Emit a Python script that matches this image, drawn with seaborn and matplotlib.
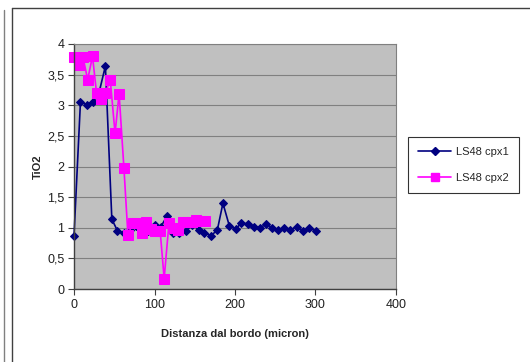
import matplotlib
matplotlib.use("Agg")
import matplotlib.pyplot as plt
import seaborn as sns
import pandas as pd
from matplotlib.lines import Line2D
from matplotlib.ticker import FuncFormatter, MultipleLocator

# ---- data ----
cpx1_x = [0, 8, 16, 24, 31, 39, 47, 54, 62, 69, 77, 85, 92, 100, 108, 116, 123, 131, 139, 147,
          155, 162, 170, 178, 185, 193, 201, 208, 216, 224, 231, 239, 246, 253, 261, 268, 277, 284, 292, 301]
cpx1_y = [0.87, 3.05, 3.01, 3.06, 3.20, 3.64, 1.14, 0.95, 0.91, 0.97, 1.03, 0.98, 0.94, 1.05, 1.02, 1.20, 0.92, 0.91, 0.94, 1.05,
          0.97, 0.92, 0.87, 0.96, 1.40, 1.03, 0.98, 1.08, 1.06, 1.02, 1.00, 1.06, 1.00, 0.97, 0.99, 0.96, 1.02, 0.95, 0.99, 0.95]
cpx2_x = [0, 6, 11, 17, 23, 28, 34, 39, 45, 51, 56, 62, 67, 73, 78, 84, 90, 96, 101, 107,
          112, 118, 124, 129, 135, 141, 146, 152, 157, 163]
cpx2_y = [3.79, 3.66, 3.79, 3.42, 3.80, 3.20, 3.11, 3.20, 3.42, 2.54, 3.19, 1.98, 0.88, 1.08, 1.08, 0.91, 1.10, 0.98, 0.94, 0.95,
          0.17, 1.08, 0.99, 0.96, 1.10, 1.09, 1.09, 1.13, 1.11, 1.11]
series_names = ["LS48 cpx1", "LS48 cpx2"]
x_label = "Distanza dal bordo (micron)"
y_label = "TiO2"

df = pd.concat([
    pd.DataFrame({"x": cpx1_x, "y": cpx1_y, "s": series_names[0]}),
    pd.DataFrame({"x": cpx2_x, "y": cpx2_y, "s": series_names[1]}),
])

sns.set_style("white")
plt.rcParams["font.family"] = ["Liberation Sans", "DejaVu Sans"]

W, H = 530, 362
fig = plt.figure(figsize=(W / 100, H / 100), dpi=100)
ax = fig.add_axes([74 / W, 1 - 289 / H, (396 - 74) / W, (289 - 44) / H])
ax.set_facecolor("#C0C0C0")

colors = {series_names[0]: "#000080", series_names[1]: "#FF00FF"}
markers = {series_names[0]: "D", series_names[1]: "s"}
sizes = {series_names[0]: 4.5, series_names[1]: 6.5}
for name in series_names:
    sub = df[df["s"] == name]
    sns.lineplot(data=sub, x="x", y="y", ax=ax, color=colors[name], marker=markers[name],
                 markersize=sizes[name], markeredgecolor=colors[name], linewidth=1.2,
                 sort=False, estimator=None, label=name, legend=False, clip_on=False)

ax.set_xlim(0, 400)
ax.set_ylim(0, 4)
ax.xaxis.set_major_locator(MultipleLocator(100))
ax.yaxis.set_major_locator(MultipleLocator(0.5))
ax.yaxis.set_major_formatter(FuncFormatter(lambda v, p: ("%g" % v).replace(".", ",")))
ax.grid(axis="y", color="#808080", linewidth=0.8)
ax.grid(axis="x", visible=False)
ax.set_axisbelow(True)
for side in ["top", "right"]:
    ax.spines[side].set_color("#808080")
    ax.spines[side].set_linewidth(0.8)
for side in ["left", "bottom"]:
    ax.spines[side].set_color("#404040")
    ax.spines[side].set_linewidth(1.0)
ax.tick_params(axis="both", direction="out", length=4, width=0.8, color="#404040",
               labelsize=9, labelcolor="#202020", pad=3, left=True, bottom=True)
ax.set_xlabel(x_label, fontsize=8, fontweight="bold", labelpad=13)
ax.set_ylabel(y_label, fontsize=8, fontweight="bold", labelpad=3)

handles = [Line2D([], [], color=colors[n], marker=markers[n], markersize=sizes[n] - 0.5,
                  linewidth=1.2) for n in series_names]
leg = fig.legend(handles, series_names, loc="upper left", bbox_to_anchor=(408 / W, 1 - 137 / H),
                 borderaxespad=0, frameon=True, fancybox=False, edgecolor="#000000", fontsize=8,
                 handlelength=3.0, borderpad=0.9, labelspacing=1.4, handletextpad=0.4)
leg.get_frame().set_linewidth(0.8)

# chart frame lines
fig.add_artist(Line2D([4 / W, 4 / W], [0, 1 - 10 / H], color="#808080", linewidth=1.0))
fig.add_artist(Line2D([12 / W, 12 / W], [0, 1 - 8 / H], color="#404040", linewidth=1.0))
fig.add_artist(Line2D([12 / W, 1], [1 - 8 / H, 1 - 8 / H], color="#404040", linewidth=1.0))

fig.savefig("out.png", dpi=100)
